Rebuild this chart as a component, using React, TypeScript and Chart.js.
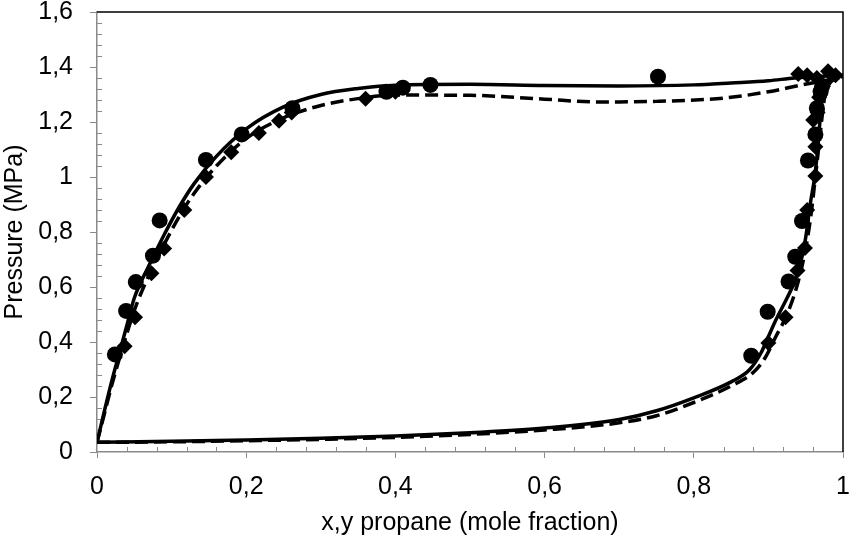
import React, { useEffect, useRef } from "react";
import { Chart, registerables } from "chart.js";

Chart.register(...registerables);

// Experimental data set 1 (circles)
const circleX = [0.024, 0.039, 0.052, 0.075, 0.084, 0.146, 0.194, 0.262, 0.388, 0.41, 0.447, 0.752,
  0.877, 0.899, 0.927, 0.936, 0.945, 0.953, 0.963, 0.965, 0.97, 0.972];
const circleY = [0.355, 0.513, 0.618, 0.714, 0.842, 1.062, 1.155, 1.25, 1.31, 1.325, 1.335, 1.365,
  0.35, 0.51, 0.62, 0.71, 0.84, 1.06, 1.155, 1.25, 1.31, 1.33];

// Experimental data set 2 (diamonds)
const diamondX = [0.037, 0.051, 0.073, 0.09, 0.117, 0.146, 0.18, 0.217, 0.244, 0.261, 0.36, 0.4,
  0.9, 0.923, 0.939, 0.949, 0.952, 0.963, 0.963, 0.96, 0.966, 0.968, 0.97, 0.973,
  0.94, 0.952, 0.965, 0.98, 0.99];
const diamondY = [0.385, 0.49, 0.65, 0.74, 0.88, 1.0, 1.09, 1.16, 1.205, 1.235, 1.285, 1.31,
  0.396, 0.49, 0.66, 0.742, 0.88, 1.004, 1.11, 1.207, 1.235, 1.29, 1.31, 1.33,
  1.375, 1.37, 1.36, 1.385, 1.37];

// Model 1 (solid)
const solidBubbleX = [0, 0.01, 0.02, 0.03, 0.04, 0.05, 0.07, 0.09, 0.11, 0.13, 0.16, 0.2, 0.25, 0.3, 0.35, 0.4, 0.5, 0.6, 0.7, 0.8, 0.85, 0.9, 0.935, 1];
const solidBubbleY = [0.035, 0.15, 0.26, 0.36, 0.46, 0.56, 0.68, 0.79, 0.89, 0.975, 1.075, 1.175, 1.255, 1.3, 1.322, 1.334, 1.337, 1.333, 1.331, 1.335, 1.342, 1.35, 1.36, 1.37];
const solidDewX = [0, 0.1, 0.2, 0.3, 0.4, 0.5, 0.6, 0.7, 0.75, 0.8, 0.85, 0.875, 0.89, 0.9, 0.91, 0.925, 0.936, 0.945, 0.95, 0.956, 0.962, 0.966, 0.969, 0.972, 0.976, 0.985, 1];
const solidDewY = [0.035, 0.039, 0.044, 0.05, 0.058, 0.07, 0.087, 0.118, 0.15, 0.197, 0.255, 0.3, 0.36, 0.42, 0.48, 0.56, 0.625, 0.71, 0.78, 0.9, 1.0, 1.1, 1.2, 1.28, 1.33, 1.355, 1.37];

// Model 2 (dashed)
const dashedBubbleX = [0, 0.01, 0.02, 0.03, 0.04, 0.05, 0.07, 0.09, 0.11, 0.13, 0.16, 0.2, 0.25, 0.3, 0.35, 0.4, 0.5, 0.6, 0.67, 0.75, 0.84, 0.9, 0.945, 0.975, 1];
const dashedBubbleY = [0.035, 0.14, 0.245, 0.34, 0.43, 0.515, 0.645, 0.755, 0.855, 0.94, 1.04, 1.14, 1.215, 1.26, 1.285, 1.298, 1.297, 1.283, 1.273, 1.275, 1.287, 1.31, 1.335, 1.35, 1.365];
const dashedDewX = [0, 0.1, 0.2, 0.3, 0.4, 0.5, 0.6, 0.7, 0.75, 0.8, 0.85, 0.88, 0.895, 0.91, 0.925, 0.94, 0.95, 0.957, 0.963, 0.968, 0.972, 0.976, 0.982, 1];
const dashedDewY = [0.035, 0.037, 0.041, 0.046, 0.053, 0.064, 0.08, 0.106, 0.132, 0.18, 0.24, 0.29, 0.34, 0.42, 0.5, 0.62, 0.74, 0.86, 1.0, 1.12, 1.22, 1.3, 1.34, 1.365];

const xTicks = [0, 0.2, 0.4, 0.6, 0.8, 1];
const yTicks = [0, 0.2, 0.4, 0.6, 0.8, 1, 1.2, 1.4, 1.6];

const toPts = (xs: number[], ys: number[]) => xs.map((x, i) => ({ x, y: ys[i] }));
const fmt = (v: number) => String(Math.round(v * 10) / 10).replace(".", ",");

const AXIS_GRAY = "#8a8a8a";
const FONT = "'Liberation Sans', Arial, sans-serif";
const FS = 25;

const framePlugin = {
  id: "frame",
  beforeDatasetsDraw(chart: any) {
    const { ctx, chartArea: a, scales } = chart;
    ctx.save();
    ctx.strokeStyle = "#000";
    ctx.lineWidth = 1.5;
    ctx.beginPath();
    ctx.moveTo(a.left, a.top);
    ctx.lineTo(a.right, a.top);
    ctx.lineTo(a.right, a.bottom);
    ctx.stroke();
    ctx.strokeStyle = AXIS_GRAY;
    ctx.lineWidth = 1;
    const xs = scales.x;
    const ys = scales.y;
    for (let i = 0; i <= 25; i++) {
      if (i % 5 === 0) continue;
      const px = Math.round(xs.getPixelForValue(i * 0.04)) + 0.5;
      ctx.beginPath();
      ctx.moveTo(px, a.bottom);
      ctx.lineTo(px, a.bottom - 5);
      ctx.stroke();
    }
    for (let i = 0; i <= 40; i++) {
      if (i % 5 === 0) continue;
      const py = Math.round(ys.getPixelForValue(i * 0.04)) + 0.5;
      ctx.beginPath();
      ctx.moveTo(a.left, py);
      ctx.lineTo(a.left + 5, py);
      ctx.stroke();
    }
    ctx.restore();
  },
};

export default function App() {
  const ref = useRef<HTMLCanvasElement | null>(null);

  useEffect(() => {
    document.body.style.margin = "0";
    const lineCommon = {
      type: "line" as const,
      showLine: true,
      pointRadius: 0,
      borderColor: "#000",
      borderWidth: 3.5,
      fill: false,
      cubicInterpolationMode: "monotone" as const,
    };
    const chart = new Chart(ref.current as HTMLCanvasElement, {
      type: "scatter",
      data: {
        datasets: [
          { ...lineCommon, label: "solid bubble", data: toPts(solidBubbleX, solidBubbleY) },
          { ...lineCommon, label: "solid dew", data: toPts(solidDewX, solidDewY) },
          { ...lineCommon, label: "dashed bubble", data: toPts(dashedBubbleX, dashedBubbleY), borderDash: [13, 6] },
          { ...lineCommon, label: "dashed dew", data: toPts(dashedDewX, dashedDewY), borderDash: [13, 6] },
          {
            label: "diamonds",
            data: toPts(diamondX, diamondY),
            pointStyle: "rectRot",
            pointRadius: 8,
            backgroundColor: "#000",
            borderColor: "#000",
            borderWidth: 0,
            clip: 0,
          },
          {
            label: "circles",
            data: toPts(circleX, circleY),
            pointStyle: "circle",
            pointRadius: 8,
            backgroundColor: "#000",
            borderColor: "#000",
            borderWidth: 0,
            clip: 0,
          },
        ] as any,
      },
      options: {
        animation: false,
        responsive: true,
        maintainAspectRatio: false,
        layout: { padding: { top: 12, right: 3, left: 0, bottom: 0 } },
        plugins: { legend: { display: false }, tooltip: { enabled: false } },
        scales: {
          x: {
            type: "linear",
            min: 0,
            max: 1,
            afterFit: (s: any) => { s.height = 88; s.paddingLeft = 0; s.paddingRight = 0; },
            afterBuildTicks: (s: any) => { s.ticks = xTicks.map((v) => ({ value: v })); },
            grid: { display: true, drawOnChartArea: false, drawTicks: true, tickLength: 6, color: AXIS_GRAY, lineWidth: 1 },
            border: { display: true, color: AXIS_GRAY, width: 1.5 },
            ticks: { callback: (v: any) => fmt(Number(v)), color: "#000", font: { family: FONT, size: FS }, padding: 14, maxRotation: 0 },
            title: { display: true, text: "x,y propane (mole fraction)", color: "#000", font: { family: FONT, size: FS }, padding: { top: 0, bottom: 2 } },
          },
          y: {
            type: "linear",
            min: 0,
            max: 1.6,
            afterFit: (s: any) => { s.width = 97; s.paddingTop = 0; s.paddingBottom = 0; },
            afterBuildTicks: (s: any) => { s.ticks = yTicks.map((v) => ({ value: v })); },
            grid: { display: true, drawOnChartArea: false, drawTicks: true, tickLength: 7, color: AXIS_GRAY, lineWidth: 1 },
            border: { display: true, color: AXIS_GRAY, width: 1.5 },
            ticks: { callback: (v: any) => fmt(Number(v)), color: "#000", font: { family: FONT, size: FS }, padding: 17 },
            title: { display: true, text: "Pressure (MPa)", color: "#000", font: { family: FONT, size: FS }, padding: { top: 0, bottom: 0 } },
          },
        },
      },
      plugins: [framePlugin],
    });
    return () => chart.destroy();
  }, []);

  return (
    <div style={{ width: 851, height: 540, position: "relative" }}>
      <canvas ref={ref} />
    </div>
  );
}
